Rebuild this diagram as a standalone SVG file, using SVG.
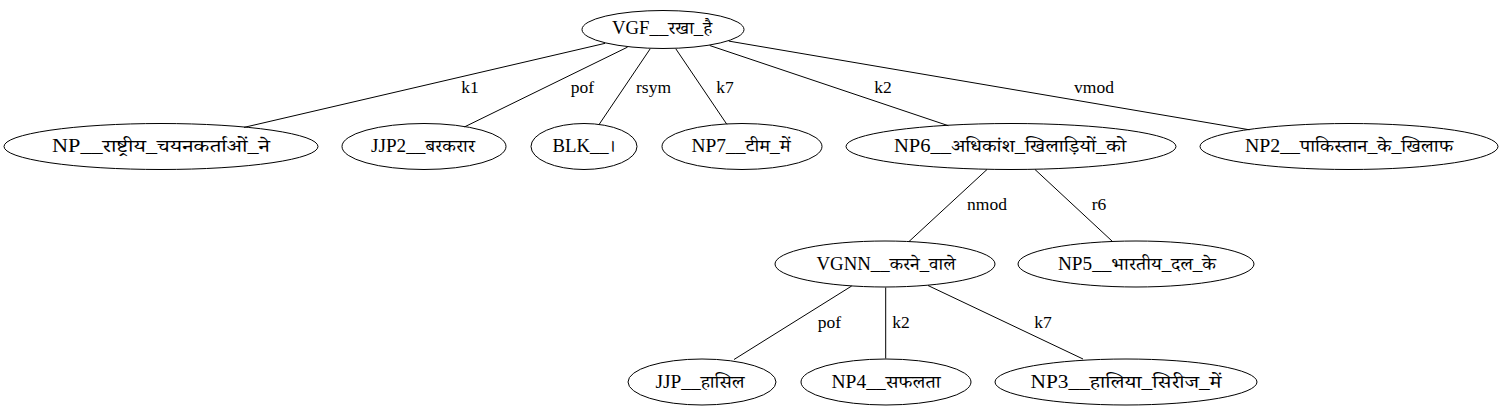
<svg xmlns="http://www.w3.org/2000/svg" width="1503" height="411" viewBox="0 0 1503 411">
<style>
.n ellipse{fill:none;stroke:#000;stroke-width:1}
text{font-family:"Liberation Serif","Noto Serif Devanagari","Noto Sans Devanagari",serif;font-size:17.5px;fill:#000;text-anchor:middle}
.n text{font-size:18px}
#edges line{stroke:#000;stroke-width:1}
</style>
<rect width="1503" height="411" fill="#fff"/>
<g id="edges">
<line x1="605.2" y1="43.3" x2="244" y2="127.4"/>
<line x1="627.6" y1="47.1" x2="464.5" y2="126.9"/>
<line x1="650.2" y1="48.8" x2="598.8" y2="124.9"/>
<line x1="675.8" y1="48.8" x2="726.9" y2="124.4"/>
<line x1="709.7" y1="45.5" x2="948.3" y2="125.7"/>
<line x1="728.8" y1="41.1" x2="1249.5" y2="129.8"/>
<line x1="987" y1="169.5" x2="909" y2="241.5"/>
<line x1="1035" y1="169.5" x2="1112.5" y2="241.5"/>
<line x1="851.7" y1="286" x2="734" y2="359.5"/>
<line x1="885.7" y1="287.5" x2="885.7" y2="358.5"/>
<line x1="928" y1="285.5" x2="1083" y2="359"/>
<text x="470" y="92.5">k1</text>
<text x="582.5" y="92.5">pof</text>
<text x="653.5" y="92.5">rsym</text>
<text x="725" y="92.5">k7</text>
<text x="883" y="92.5">k2</text>
<text x="1094" y="92.5">vmod</text>
<text x="987" y="210">nmod</text>
<text x="1099" y="210">r6</text>
<text x="829.5" y="328">pof</text>
<text x="901" y="328">k2</text>
<text x="1043" y="328">k7</text>
</g>
<g id="root" class="n"><ellipse cx="663" cy="29.5" rx="81" ry="19"/><text x="662" y="34" textLength="100" lengthAdjust="spacingAndGlyphs">VGF__रखा_है</text></g>
<g id="np_rashtriya" class="n"><ellipse cx="161" cy="146.5" rx="157" ry="23"/><text x="161" y="152" textLength="218" lengthAdjust="spacingAndGlyphs">NP__राष्ट्रीय_चयनकर्ताओं_ने</text></g>
<g id="jjp2" class="n"><ellipse cx="424" cy="146.5" rx="82" ry="23"/><text x="423" y="152" textLength="104" lengthAdjust="spacingAndGlyphs">JJP2__बरकरार</text></g>
<g id="blk" class="n"><ellipse cx="584" cy="146.5" rx="53" ry="23"/><text x="584" y="152" textLength="63" lengthAdjust="spacingAndGlyphs">BLK__।</text></g>
<g id="np7" class="n"><ellipse cx="742" cy="146.5" rx="80" ry="23"/><text x="741" y="152" textLength="99" lengthAdjust="spacingAndGlyphs">NP7__टीम_में</text></g>
<g id="np6" class="n"><ellipse cx="1011" cy="146.5" rx="165" ry="23"/><text x="1010" y="152" textLength="232" lengthAdjust="spacingAndGlyphs">NP6__अधिकांश_खिलाड़ियों_को</text></g>
<g id="np2" class="n"><ellipse cx="1349" cy="146.5" rx="149" ry="23"/><text x="1349" y="152" textLength="208" lengthAdjust="spacingAndGlyphs">NP2__पाकिस्तान_के_खिलाफ</text></g>
<g id="vgnn" class="n"><ellipse cx="885" cy="264" rx="110" ry="23"/><text x="886" y="269.5" textLength="139" lengthAdjust="spacingAndGlyphs">VGNN__करने_वाले</text></g>
<g id="np5" class="n"><ellipse cx="1136" cy="264" rx="118" ry="23"/><text x="1137" y="269.5" textLength="158" lengthAdjust="spacingAndGlyphs">NP5__भारतीय_दल_के</text></g>
<g id="jjp" class="n"><ellipse cx="702" cy="382" rx="74" ry="23"/><text x="700" y="387.5" textLength="89" lengthAdjust="spacingAndGlyphs">JJP__हासिल</text></g>
<g id="np4" class="n"><ellipse cx="886" cy="382" rx="85" ry="23"/><text x="886" y="387.5" textLength="109" lengthAdjust="spacingAndGlyphs">NP4__सफलता</text></g>
<g id="np3" class="n"><ellipse cx="1126" cy="382" rx="131" ry="23"/><text x="1126" y="387.5" textLength="191" lengthAdjust="spacingAndGlyphs">NP3__हालिया_सिरीज_में</text></g>
</svg>
